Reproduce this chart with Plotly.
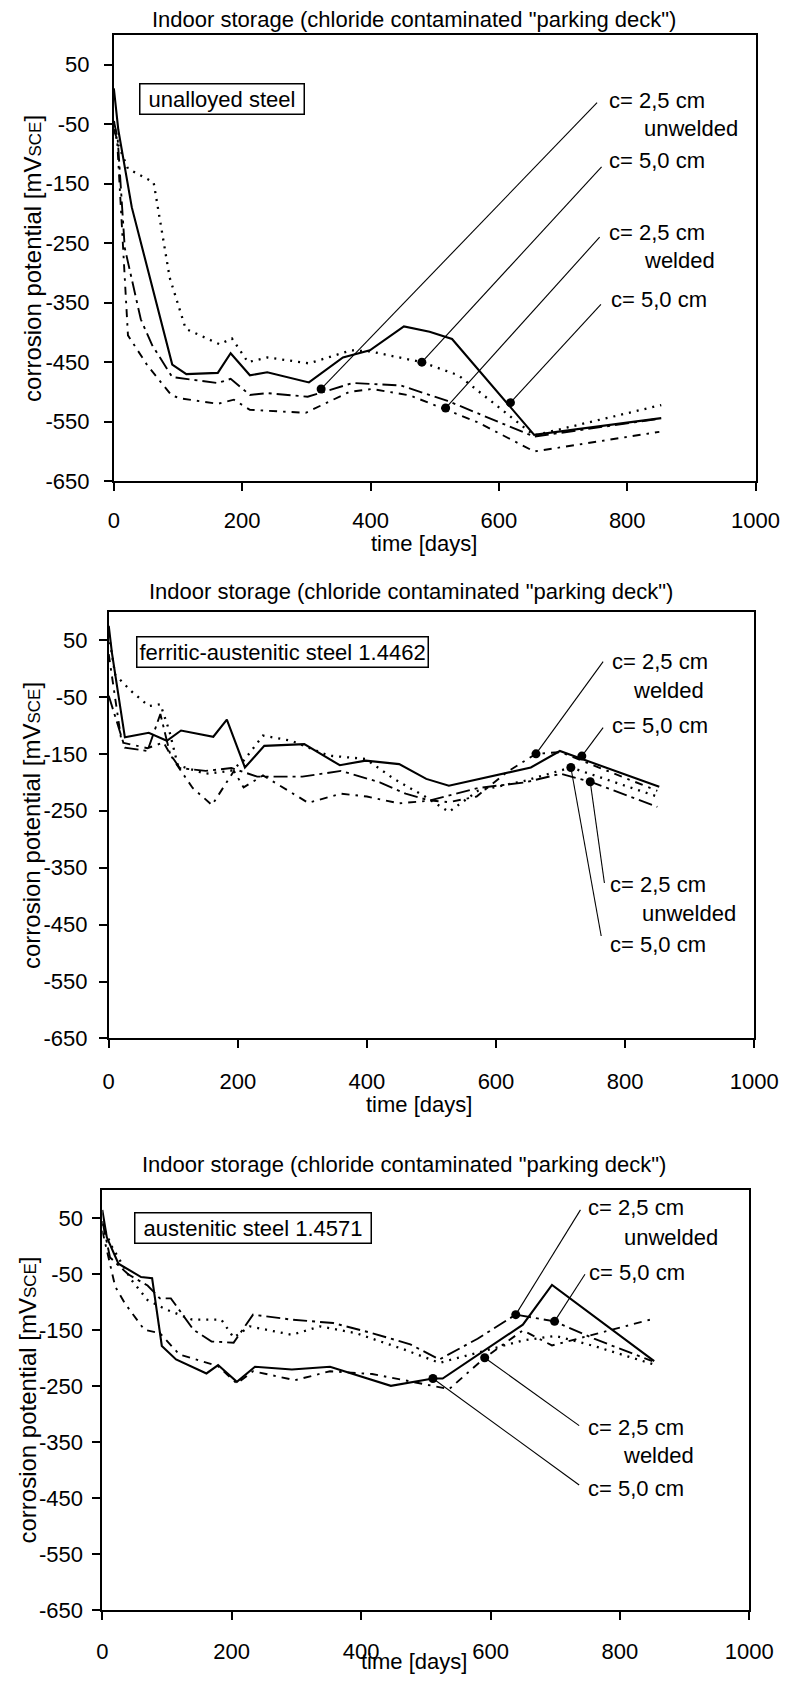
import plotly.graph_objects as go

W, H = 808, 1686
FONT = "Liberation Sans, Arial, sans-serif"

# ---------------- data ----------------
# Panel 1 : unalloyed steel
p1_s_x = [0, 7, 28, 91, 113, 162, 182, 212, 239, 304, 357, 399, 452, 492, 527, 655, 853]
p1_s_y = [10, -60, -190, -454, -470, -468, -435, -472, -467, -484, -442, -430, -390, -399, -411, -572, -544]
p1_d_x = [0, 5, 22, 42, 62, 87, 112, 165, 184, 209, 239, 304, 370, 400, 432, 480, 537, 655, 853]
p1_d_y = [-45, -80, -125, -136, -148, -308, -394, -420, -410, -450, -442, -452, -430, -432, -439, -450, -472, -573, -522]
p1_c_x = [0, 6, 17, 42, 60, 91, 162, 182, 212, 239, 302, 372, 447, 520, 655, 850]
p1_c_y = [-45, -75, -258, -378, -422, -475, -485, -478, -505, -502, -508, -485, -489, -515, -575, -545]
p1_e_x = [0, 5, 22, 52, 90, 105, 162, 187, 212, 299, 367, 402, 462, 567, 655, 850]
p1_e_y = [-60, -75, -405, -455, -506, -511, -520, -513, -530, -535, -500, -495, -506, -551, -600, -567]

# Panel 2 : ferritic-austenitic steel 1.4462
p2_s_x = [0, 5, 25, 62, 90, 112, 162, 183, 211, 241, 303, 358, 398, 450, 492, 527, 654, 699, 853]
p2_s_y = [75, 27, -121, -113, -127, -109, -120, -90, -174, -136, -133, -170, -162, -168, -194, -206, -174, -145, -208]
p2_d_x = [0, 10, 35, 62, 80, 94, 107, 150, 189, 209, 239, 283, 340, 398, 442, 490, 527, 572, 646, 701, 716, 850]
p2_d_y = [60, -11, -40, -66, -63, -110, -170, -185, -180, -162, -118, -127, -153, -159, -194, -225, -252, -215, -197, -180, -174, -225]
p2_c_x = [0, 25, 60, 80, 95, 110, 150, 190, 230, 300, 360, 420, 460, 497, 572, 646, 700, 746, 850]
p2_c_y = [-48, -139, -145, -80, -150, -175, -180, -175, -190, -190, -180, -200, -220, -232, -210, -200, -185, -199, -243]
p2_e_x = [0, 20, 60, 85, 100, 130, 160, 194, 209, 239, 309, 360, 400, 450, 500, 527, 570, 617, 662, 700, 850]
p2_e_y = [25, -130, -140, -130, -160, -210, -240, -180, -209, -188, -236, -220, -225, -237, -232, -235, -225, -182, -150, -147, -215]

# Panel 3 : austenitic steel 1.4571
p3_s_x = [0, 7, 25, 60, 77, 92, 114, 161, 179, 208, 236, 293, 352, 446, 511, 526, 650, 695, 853]
p3_s_y = [65, 16, -31, -55, -57, -178, -202, -227, -212, -242, -215, -220, -215, -249, -236, -236, -140, -69, -205]
p3_d_x = [0, 15, 45, 70, 99, 139, 184, 203, 228, 293, 337, 392, 466, 521, 580, 650, 700, 760, 850]
p3_d_y = [40, -1, -60, -96, -113, -131, -131, -163, -143, -158, -143, -155, -184, -208, -190, -168, -160, -178, -210]
p3_c_x = [0, 12, 40, 70, 89, 106, 141, 169, 203, 233, 293, 357, 417, 476, 521, 580, 639, 699, 760, 850]
p3_c_y = [45, -20, -50, -70, -93, -93, -149, -170, -172, -122, -131, -137, -155, -175, -202, -165, -122, -134, -165, -205]
p3_e_x = [0, 20, 35, 65, 89, 119, 179, 208, 233, 298, 352, 417, 471, 536, 591, 650, 695, 850]
p3_e_y = [28, -72, -102, -149, -155, -193, -214, -245, -223, -239, -223, -228, -240, -255, -199, -150, -177, -130]

# labelled points (dot) and label anchors per panel
p1_dot_x = [323, 480, 517, 618]
p1_dot_y = [-495, -450, -527, -518]
p1_lead_x = [753, 760, 757, 759]
p1_lead_y = [-14, -122, -240, -353]
p1_lab = ["c= 2,5 cm", "c= 5,0 cm", "c= 2,5 cm", "c= 5,0 cm"]
p1_lab_x = [768, 768, 768, 772]
p1_lab_y = [-10, -112, -232, -345]
p1_sub = ["unwelded", "welded"]
p1_sub_x = [975, 940]
p1_sub_y = [-57, -280]

p2_dot_x = [662, 733, 746, 716]
p2_dot_y = [-150, -154, -199, -174]
p2_lead_x = [766, 766, 768, 763]
p2_lead_y = [12, -104, -377, -470]
p2_lab = ["c= 2,5 cm", "c= 5,0 cm", "c= 2,5 cm", "c= 5,0 cm"]
p2_lab_x = [776, 776, 774, 774]
p2_lab_y = [12, -101, -380, -485]
p2_sub = ["welded", "unwelded"]
p2_sub_x = [925, 975]
p2_sub_y = [-39, -431]

p3_dot_x = [639, 699, 591, 511]
p3_dot_y = [-122, -134, -199, -236]
p3_lead_x = [739, 746, 737, 737]
p3_lead_y = [65, -50, -320, -426]
p3_lab = ["c= 2,5 cm", "c= 5,0 cm", "c= 2,5 cm", "c= 5,0 cm"]
p3_lab_x = [748, 749, 748, 748]
p3_lab_y = [69, -47, -324, -432]
p3_sub = ["unwelded", "welded"]
p3_sub_x = [955, 918]
p3_sub_y = [16, -374]

box_text = ["\u00a0unalloyed steel\u00a0", "ferritic-austenitic steel 1.4462", "\u00a0austenitic steel 1.4571\u00a0"]
box_x = [168, 270, 233]
box_y = [-8, 29, 32]

x_ticks = [0, 200, 400, 600, 800, 1000]
x_tick_text = ["0", "200", "400", "600", "800", "1000"]
y_ticks = [50, -50, -150, -250, -350, -450, -550, -650]
y_tick_text = ["50", "-50", "-150", "-250", "-350", "-450", "-550", "-650"]
title_text = 'Indoor storage (chloride contaminated "parking deck")'

# ---------------- layout geometry (pixels) ----------------
# (left, right, top, bottom) of each plot area
areas = [(112, 778.5, 35, 485), (106.7, 777, 616.3, 1046.5), (100, 772, 1199.5, 1623)]
title_pos = [(424, 20), (421, 596), (413, 1174)]
xtitle_pos = [(434, 548), (429, 1113), (424, 1674)]
ytitle_x = [28, 27, 22]
xstand = [10, 14, 12]
ystand = [10, 7, 5]

panels = [
    (p1_s_x, p1_s_y, p1_d_x, p1_d_y, p1_c_x, p1_c_y, p1_e_x, p1_e_y,
     p1_dot_x, p1_dot_y, p1_lead_x, p1_lead_y, p1_lab, p1_lab_x, p1_lab_y, p1_sub, p1_sub_x, p1_sub_y),
    (p2_s_x, p2_s_y, p2_d_x, p2_d_y, p2_c_x, p2_c_y, p2_e_x, p2_e_y,
     p2_dot_x, p2_dot_y, p2_lead_x, p2_lead_y, p2_lab, p2_lab_x, p2_lab_y, p2_sub, p2_sub_x, p2_sub_y),
    (p3_s_x, p3_s_y, p3_d_x, p3_d_y, p3_c_x, p3_c_y, p3_e_x, p3_e_y,
     p3_dot_x, p3_dot_y, p3_lead_x, p3_lead_y, p3_lab, p3_lab_x, p3_lab_y, p3_sub, p3_sub_x, p3_sub_y),
]

styles = [
    dict(dash="solid", width=2.1),
    dict(dash="2px,6px", width=2.3),
    dict(dash="14px,5px,3px,5px", width=1.9),
    dict(dash="8px,6px,2.5px,6px", width=1.9),
]

TXT = 22
fig = go.Figure()
annotations = []
shapes = []
layout = {}

for i, pdata in enumerate(panels):
    (sx, sy, dx, dy, cx, cy, ex, ey, dotx, doty, lx, ly, lab, labx, laby, sub, subx, suby) = pdata
    k = "" if i == 0 else str(i + 1)
    xr, yr = "x" + k, "y" + k
    l, r, t, b = areas[i]
    layout["xaxis" + k] = dict(
        domain=[l / W, r / W], range=[0, 1000], anchor=yr,
        tickmode="array", tickvals=x_ticks, ticktext=x_tick_text,
        showline=True, linewidth=1.8, linecolor="black", mirror=True,
        ticks="outside", ticklen=8, tickwidth=1.5, tickcolor="black",
        showgrid=False, zeroline=False, ticklabelstandoff=xstand[i],
        tickfont=dict(family=FONT, size=TXT, color="black"),
    )
    layout["yaxis" + k] = dict(
        domain=[1 - b / H, 1 - t / H], range=[-650, 100], anchor=xr,
        tickmode="array", tickvals=y_ticks, ticktext=y_tick_text,
        showline=True, linewidth=1.8, linecolor="black", mirror=True,
        ticks="outside", ticklen=8, tickwidth=1.5, tickcolor="black",
        showgrid=False, zeroline=False, ticklabelstandoff=ystand[i],
        tickfont=dict(family=FONT, size=TXT, color="black"),
    )
    for (xx, yy), st in zip([(sx, sy), (dx, dy), (cx, cy), (ex, ey)], styles):
        fig.add_trace(go.Scatter(x=xx, y=yy, mode="lines", xaxis=xr, yaxis=yr,
                                 line=dict(color="black", **st), showlegend=False,
                                 hoverinfo="skip"))
    # leader lines
    for x0, y0, x1, y1 in zip(dotx, doty, lx, ly):
        shapes.append(dict(type="line", xref=xr, yref=yr, x0=x0, y0=y0, x1=x1, y1=y1,
                           line=dict(color="black", width=1.1)))
    fig.add_trace(go.Scatter(x=dotx, y=doty, mode="markers", xaxis=xr, yaxis=yr,
                             marker=dict(color="black", size=9), showlegend=False,
                             hoverinfo="skip"))
    for txt, xx, yy in zip(lab, labx, laby):
        annotations.append(dict(text=txt, x=xx, y=yy, xref=xr, yref=yr, xanchor="left",
                                yanchor="middle", showarrow=False,
                                font=dict(family=FONT, size=TXT, color="black")))
    for txt, xx, yy in zip(sub, subx, suby):
        annotations.append(dict(text=txt, x=xx, y=yy, xref=xr, yref=yr, xanchor="right",
                                yanchor="middle", showarrow=False,
                                font=dict(family=FONT, size=TXT, color="black")))
    annotations.append(dict(text=box_text[i], x=box_x[i], y=box_y[i], xref=xr, yref=yr,
                            xanchor="center", yanchor="middle", showarrow=False,
                            bordercolor="black", borderwidth=1.5, borderpad=2,
                            bgcolor="white",
                            font=dict(family=FONT, size=TXT, color="black")))
    # panel title
    tx, ty = title_pos[i]
    annotations.append(dict(text=title_text, x=tx / W, y=1 - ty / H, xref="paper", yref="paper",
                            xanchor="center", yanchor="middle", showarrow=False,
                            font=dict(family=FONT, size=TXT, color="black")))
    # x axis title
    ax_, ay_ = xtitle_pos[i]
    annotations.append(dict(text="time [days]", x=ax_ / W, y=1 - ay_ / H, xref="paper",
                            yref="paper", xanchor="center", yanchor="middle", showarrow=False,
                            font=dict(family=FONT, size=TXT, color="black")))
    # y axis title
    annotations.append(dict(text='corrosion potential [mV<span style="font-size:17px">SCE</span>]',
                            x=ytitle_x[i] / W, y=1 - (t + b) / 2 / H, xref="paper", yref="paper",
                            xanchor="center", yanchor="middle", textangle=-90, showarrow=False,
                            font=dict(family=FONT, size=24, color="black")))

fig.update_layout(
    width=W, height=H, margin=dict(l=0, r=0, t=0, b=0),
    paper_bgcolor="white", plot_bgcolor="white",
    annotations=annotations, shapes=shapes, showlegend=False, **layout,
)
fig.write_html("out.html")
